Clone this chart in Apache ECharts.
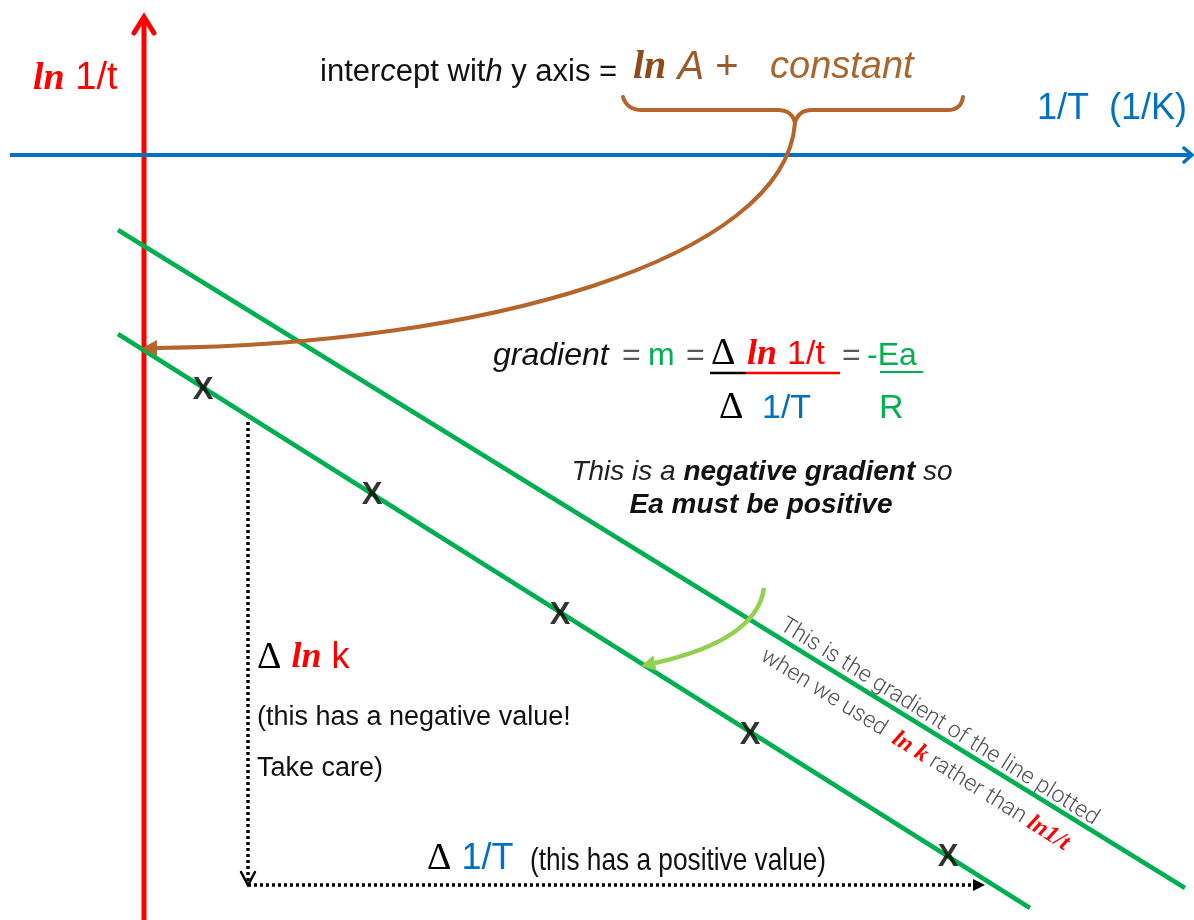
<!DOCTYPE html>
<html>
<head>
<meta charset="utf-8">
<script src="https://cdn.jsdelivr.net/npm/echarts@6/dist/echarts.min.js"></script>
<style>
  html, body { margin: 0; padding: 0; background: #ffffff; }
  #chart { width: 1194px; height: 920px; }
</style>
</head>
<body>
<div id="chart"></div>
<script>
// Arrhenius-type sketch: x = 1/T, y = ln 1/t (arbitrary units, origin where the axes cross)
const lnRecipTAxis = [[0, -765], [0, 138]];
const recipTAxis = [[-134, 0], [1048, 0]];
const measured = [[59, -235], [228, -340], [416, -460], [606, -580], [804, -702]];
const fitLn1t = [[-26, -179], [886, -753]];
const fitLnK = [[-26, -75], [1041, -733]];
const deltaLnK = [[104, -267], [104, -730]];
const deltaRecipT = [[104, -730], [841, -730]];
const interceptArrow = [[651, 32], [641, -105], [336, -190], [13, -193]];
const gradientArrow = [[620, -433], [613, -485], [511, -508]];
const braceLeft = [[479, 58], [483, 45], [498, 45], [634, 45], [648, 45], [651, 32]];
const braceRight = [[651, 32], [654, 45], [668, 45], [804, 45], [817, 45], [819, 58]];

const SANS = "'Liberation Sans', Arial, Helvetica, sans-serif";
const SERIF = "'Liberation Serif', 'Times New Roman', Times, serif";
const THIN = "Roboto, 'Open Sans', sans-serif";

const RED = '#FF0000', BLUE = '#0070C0', GREEN = '#00B050', LIGHTGREEN = '#92D050',
      BROWN = '#B5652B', BLACK = '#000000';

const pt = p => p[0] + ',' + p[1];

// A stroked path (straight or curved) with an optional arrow head at its end.
function pathSeries(name, pts, build, opt) {
  return {
    type: 'custom', name, coordinateSystem: 'cartesian2d', silent: true, z: opt.z || 3,
    data: [[0, 0]],
    renderItem: function (params, api) {
      const P = pts.map(p => api.coord(p));
      const children = [];
      const h = opt.head;
      let draw = P.slice();
      let headPts = null;
      if (h) {
        const a = P[P.length - 2], b = P[P.length - 1];
        const dx = b[0] - a[0], dy = b[1] - a[1], L = Math.hypot(dx, dy);
        const ux = dx / L, uy = dy / L;
        let tip, base;
        if (h.extend) { base = b; tip = [b[0] + ux * h.len, b[1] + uy * h.len]; }
        else { tip = b; base = [b[0] - ux * h.len, b[1] - uy * h.len]; if (h.solid) draw[draw.length - 1] = base; }
        headPts = [[base[0] - uy * h.half, base[1] + ux * h.half], tip, [base[0] + uy * h.half, base[1] - ux * h.half]];
      }
      children.push({
        type: 'path', shape: { pathData: build(draw) },
        style: { stroke: opt.color, lineWidth: opt.width, fill: 'none', lineDash: opt.dash || null, lineCap: opt.cap || 'butt', lineJoin: 'round' }
      });
      if (headPts) {
        if (h.solid) children.push({ type: 'polygon', shape: { points: headPts }, style: { fill: opt.color } });
        else children.push({ type: 'polyline', shape: { points: headPts }, style: { stroke: opt.color, lineWidth: h.width || opt.width, fill: 'none', lineCap: 'round', lineJoin: 'miter' } });
      }
      return { type: 'group', children };
    }
  };
}

const straight = P => 'M' + pt(P[0]) + ' L' + pt(P[1]);
const cubic = P => 'M' + pt(P[0]) + ' C' + pt(P[1]) + ' ' + pt(P[2]) + ' ' + pt(P[3]);
const quad = P => 'M' + pt(P[0]) + ' Q' + pt(P[1]) + ' ' + pt(P[2]);
const braceHalf = P => 'M' + pt(P[0]) + ' Q' + pt(P[1]) + ' ' + pt(P[2]) + ' L' + pt(P[3]) + ' Q' + pt(P[4]) + ' ' + pt(P[5]);

function fitLine(name, data, color) {
  return {
    type: 'line', name, data, symbol: 'none', silent: true, z: 4, animation: false,
    lineStyle: { color, width: 4.5, cap: 'butt' }
  };
}

function txt(x, y, text, style, extra) {
  return Object.assign({
    type: 'text', x, y, silent: true, z: 100,
    style: Object.assign({ text, align: 'left', verticalAlign: 'middle', fontFamily: SANS, fill: BLACK }, style)
  }, extra || {});
}
function rule(x1, x2, y, color, w) {
  return { type: 'line', silent: true, z: 100, shape: { x1, y1: y, x2, y2: y }, style: { stroke: color, lineWidth: w || 2.5 } };
}

const lnStyle = (size, color) => ({ fontFamily: SERIF, fontStyle: 'italic', fontWeight: 'bold', fontSize: size, fill: color });
const sans = (size, color, extra) => Object.assign({ fontFamily: SANS, fontSize: size, fill: color }, extra || {});

const chart = echarts.init(document.getElementById('chart'), null, { renderer: 'canvas' });

chart.setOption({
  animation: false,
  backgroundColor: '#ffffff',
  grid: { left: 0, right: 0, top: 0, bottom: 0, containLabel: false },
  xAxis: { type: 'value', min: -144, max: 1050, show: false },
  yAxis: { type: 'value', min: -765, max: 155, show: false },
  series: [
    pathSeries('ln 1/t axis', lnRecipTAxis, straight, { color: RED, width: 5, z: 2, head: { len: 16, half: 10, width: 5 } }),
    pathSeries('1/T axis', recipTAxis, straight, { color: BLUE, width: 4, z: 2, head: { len: 8, half: 7, width: 3.5 } }),
    fitLine('ln k', fitLnK, GREEN),
    fitLine('ln 1/t', fitLn1t, GREEN),
    {
      type: 'scatter', name: 'measured', data: measured, symbol: 'circle', symbolSize: 1, silent: true, z: 6,
      itemStyle: { color: 'rgba(0,0,0,0)' },
      label: { show: true, position: 'inside', formatter: 'X', fontSize: 31, fontWeight: 'bold', fontFamily: SANS, color: BLACK }
    },
    pathSeries('delta ln k', deltaLnK, straight, { color: BLACK, width: 3.5, dash: [3, 3], z: 5, head: { len: 13, half: 7, width: 2.5 } }),
    pathSeries('delta 1/T', deltaRecipT, straight, { color: BLACK, width: 3.5, dash: [3, 3], z: 5, head: { len: 12, half: 6, solid: true } }),
    pathSeries('intercept arrow', interceptArrow, cubic, { color: BROWN, width: 4, z: 7, head: { len: 15, half: 8, solid: true, extend: true } }),
    pathSeries('gradient arrow', gradientArrow, quad, { color: LIGHTGREEN, width: 4.5, z: 7, head: { len: 14, half: 8, solid: true, extend: true } }),
    pathSeries('brace left', braceLeft, braceHalf, { color: BROWN, width: 4, z: 7, cap: 'round' }),
    pathSeries('brace right', braceRight, braceHalf, { color: BROWN, width: 4, z: 7, cap: 'round' })
  ],
  graphic: [
    // vertical axis title
    txt(33, 79, '{ln|ln} {t|1/t}', { fontSize: 38, rich: { ln: lnStyle(38, RED), t: sans(38, RED) } }),
    // intercept note
    txt(320, 72, '{a|inter}{i|c}{a|ept wit}{i|h}{a| y axis =}', {
      fontSize: 31, rich: { a: sans(31, '#111111'), i: sans(31, '#111111', { fontStyle: 'italic' }) }
    }),
    txt(633, 68, '{ln|ln} {A|A} {p|+}', {
      fontSize: 40, rich: { ln: lnStyle(40, '#8E4A1A'), A: sans(40, '#9C5A2A', { fontStyle: 'italic' }), p: sans(40, '#9C5A2A') }
    }),
    txt(770, 67, 'constant', sans(38, '#A8652E', { fontStyle: 'italic' })),
    // horizontal axis title
    txt(1037, 109, '1/T  (1/K)', sans(36, BLUE)),

    // gradient = m = Δ ln 1/t / Δ 1/T = -Ea / R
    txt(493, 356, 'gradient', sans(32, '#111111', { fontStyle: 'italic' })),
    txt(622, 356, '=', sans(32, '#595959')),
    txt(648, 356, 'm', sans(32, GREEN)),
    txt(686, 356, '=', sans(32, '#595959')),
    txt(711, 354, '\u0394', { fontFamily: SERIF, fontSize: 38, fill: BLACK }),
    txt(747, 355, '{ln|ln} {t|1/t}', { fontSize: 36, rich: { ln: lnStyle(36, RED), t: sans(34, RED) } }),
    rule(710, 746, 373, BLACK, 2.5),
    rule(746, 840, 373, RED, 2.5),
    txt(842, 356, '=', sans(32, '#595959')),
    txt(867, 356, '-Ea', sans(32, GREEN)),
    rule(880, 923, 372, GREEN, 2),
    txt(719, 408, '\u0394', { fontFamily: SERIF, fontSize: 38, fill: BLACK }),
    txt(762, 409, '1/T', sans(34, BLUE)),
    txt(879, 409, 'R', sans(34, GREEN)),

    // sign note
    txt(762, 472, '{n|This is a }{b|negative gradient}{n| so}', {
      align: 'center', fontSize: 28,
      rich: { n: sans(28, '#222222', { fontStyle: 'italic' }), b: sans(28, '#111111', { fontStyle: 'italic', fontWeight: 'bold' }) }
    }),
    txt(761, 505, 'Ea must be positive', sans(28, '#111111', { fontStyle: 'italic', fontWeight: 'bold', align: 'center' })),

    // note written along the ln k line
    {
      type: 'group', x: 788, y: 614, rotation: -32 * Math.PI / 180, silent: true, z: 100,
      children: [
        { type: 'text', x: 0, y: 0, style: { text: 'This is the gradient of the line plotted', fontFamily: THIN, fontWeight: 300, fontSize: 23, fill: '#505050', verticalAlign: 'top' } },
        {
          type: 'text', x: 0, y: 36, style: {
            text: '{g|when we used  }{r|ln k}{g| rather than }{r|ln1/t}', fontFamily: THIN, fontWeight: 300, fontSize: 23, verticalAlign: 'top',
            rich: { g: { fontFamily: THIN, fontWeight: 300, fontSize: 23, fill: '#505050' }, r: lnStyle(24, RED) }
          }
        }
      ]
    },

    // Δ ln k label
    txt(257, 658, '{d|\u0394} {ln|ln} {k|k}', {
      fontSize: 36, rich: { d: { fontFamily: SERIF, fontSize: 38, fill: BLACK }, ln: lnStyle(36, RED), k: sans(36, RED) }
    }),
    txt(257, 718, '(this has a negative value!', sans(27, '#111111')),
    txt(257, 769, 'Take care)', sans(27, '#111111')),

    // Δ 1/T label
    txt(427, 859, '{d|\u0394} {t|1/T}', {
      fontSize: 36, rich: { d: { fontFamily: SERIF, fontSize: 38, fill: BLACK }, t: sans(36, BLUE) }
    }),
    txt(530, 861, '(this has a positive value)', sans(32, '#111111'), { scaleX: 0.82 })
  ]
});
</script>
</body>
</html>
